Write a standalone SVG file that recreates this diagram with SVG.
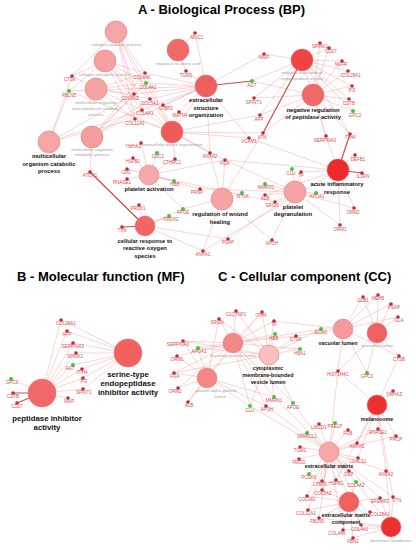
<svg xmlns="http://www.w3.org/2000/svg" width="416" height="550" viewBox="0 0 416 550">
<style>
.title{font:bold 13px "Liberation Sans",Arial,sans-serif;fill:#000}
.e{stroke:#ee7070;stroke-width:0.5;stroke-opacity:0.6;fill:none}
.E{stroke:#d44848;stroke-width:1.2;fill:none}
.t{stroke:#e07070;stroke-width:0.5}
.d{fill:#c42838}
.gd{fill:#3cc83c}
.gl{font:4.5px "Liberation Sans",Arial,sans-serif;fill:#e04848;text-anchor:middle}
.tl{font:bold 5.8px "Liberation Sans",Arial,sans-serif;fill:#111;text-anchor:middle}
.tg{font:4.3px "Liberation Sans",Arial,sans-serif;fill:#a0a0a0;text-anchor:middle}
.mf{font-size:7.8px}
.cc{font-size:5.3px}
</style>
<rect width="416" height="550" fill="#fff"/>
<text class="title" x="138" y="14">A - Biological Process (BP)</text>
<text class="title" x="17" y="281">B - Molecular function (MF)</text>
<text class="title" x="218" y="281">C - Cellular component (CC)</text>

<g id="connectors">
<path class="e" d="M195 33L178 50M195 33L206 86
M186 71L178 50M186 71L206 86
M72 76L116 32M72 76L105 61M72 76L96 89M72 76L49 142
M69 91L105 61M69 91L49 142M69 91L206 86M69 91L172 132
M145 73L116 32M145 73L105 61M145 73L96 89M145 73L92 137M145 73L206 86M145 73L172 132
M146 83L116 32M146 83L105 61M146 83L96 89M146 83L92 137M146 83L206 86M146 83L172 132
M134 94L116 32M134 94L105 61M134 94L96 89M134 94L49 142M134 94L92 137M134 94L206 86M134 94L172 132
M150 99L116 32M150 99L105 61M150 99L96 89M150 99L92 137M150 99L206 86M150 99L172 132
M142 110L116 32M142 110L105 61M142 110L96 89M142 110L49 142M142 110L92 137M142 110L206 86M142 110L172 132
M135 119L116 32M135 119L105 61M135 119L96 89M135 119L49 142M135 119L206 86M135 119L172 132
M163 105L206 86M163 105L172 132
M179 112L206 86M179 112L172 132
M264 54L302 60M264 54L206 86
M252 81L313 95M252 81L302 60
M254 98L313 95M254 98L302 60
M260 115L313 95M260 115L302 60M260 115L172 132
M263 133L313 95M263 133L172 132M263 133L222 199
M320 43L313 95M320 43L302 60
M329 48L313 95M329 48L302 60
M342 61L313 95M342 61L302 60
M348 71L313 95M348 71L302 60
M352 86L313 95M352 86L302 60
M349 99L313 95M349 99L302 60
M353 111L313 95M353 111L302 60
M326 136L313 95M326 136L302 60M326 136L338 170
M350 134L313 95M350 134L302 60
M355 155L338 170
M354 208L295 192M354 208L338 170
M340 225L338 170M340 225L295 192
M316 193L295 192
M301 172L295 192M301 172L338 170
M292 169L295 192
M265 184L295 192
M265 195L295 192M265 195L338 170
M275 202L295 192M275 202L149 175
M242 193L222 199
M228 239L295 192M228 239L145 226
M272 240L295 192M272 240L222 199
M203 251L145 226M203 251L222 199M203 251L338 170
M210 153L172 132M210 153L222 199M210 153L206 86
M225 160L172 132M225 160L222 199M225 160L295 192M225 160L338 170M225 160L149 175
M249 138L172 132M249 138L338 170M249 138L206 86
M141 143L149 175M157 153L149 175M175 159L149 175M175 159L172 132
M133 158L149 175M127 169L149 175M127 179L149 175M174 181L149 175
M200 189L149 175M200 189L295 192
M183 209L145 226M183 209L149 175M183 209L222 199
M169 216L145 226M139 205L145 226
M92 137L90 172M206 86L172 132"/>
<path class="E" d="M252 81L206 86M263 133L302 60M350 134L338 170M362 173L338 170M122 227L145 226M90 172L145 226"/>

<path class="e" d="M61 320L128 353M61 320L42 393
M67 331L128 353M67 331L42 393
M73 343L128 353M73 343L42 393
M76 353L128 353M76 353L42 393
M73 365L128 353M73 365L42 393
M82 369L128 353M82 369L42 393
M83 378L128 353M83 378L42 393
M83 389L128 353M83 389L42 393
M68 398L42 393M11 379L42 393"/>
<path class="E" d="M13 393L42 393M17 403L42 393"/>

<path class="e" d="M236 311L233 343M236 311L269 355
M262 312L233 343M262 312L269 355M262 312L207 378
M274 321L233 343M274 321L269 355M274 321L343 329
M275 334L233 343M275 334L269 355
M219 319L233 343M219 319L269 355M219 319L207 378
M183 341L233 343M183 341L207 378M183 341L269 355
M198 348L233 343M198 348L207 378M198 348L269 355
M177 356L233 343M177 356L207 378
M174 373L233 343M174 373L207 378M174 373L269 355
M178 388L233 343M178 388L207 378
M188 402L233 343M188 402L207 378
M300 349L269 355M300 349L233 343
M296 336L269 355M296 336L233 343M296 336L343 329
M321 329L343 329M321 329L269 355M321 329L233 343
M363 297L343 329M363 297L377 333
M378 295L343 329M378 295L377 333
M391 304L343 329M391 304L377 333
M398 317L343 329M398 317L377 333
M399 356L377 333M399 356L343 329M399 356L377 405
M338 371L343 329M338 371L377 405M338 371L377 333M338 371L329 452
M367 373L343 329M367 373L377 333
M393 391L377 405
M274 397L233 343M274 397L207 378M274 397L329 452M274 397L269 355
M293 403L329 452M293 403L233 343M293 403L269 355
M250 406L233 343M250 406L207 378M250 406L329 452M250 406L269 355
M266 406L233 343M266 406L207 378M266 406L329 452
M319 424L329 452M335 423L329 452M348 430L329 452
M378 429L377 405M378 429L329 452
M396 436L377 405M396 436L329 452
M357 443L377 405M357 443L329 452
M307 433L329 452M300 447L329 452M299 459L329 452M309 474L329 452
M358 458L329 452M358 458L377 405M349 471L329 452
M386 471L377 405M386 471L329 452M386 471L391 527
M356 482L329 452M356 482L349 502M356 482L391 527
M322 481L329 452M322 481L349 502
M336 480L329 452M336 480L377 405
M322 490L329 452M322 490L349 502
M307 496L329 452M307 496L349 502
M308 510L329 452M308 510L349 502
M319 518L329 452M319 518L349 502M319 518L391 527
M380 498L329 452M380 498L349 502M380 498L391 527
M393 497L329 452M393 497L391 527M393 497L377 405
M368 516L349 502M368 516L329 452
M361 525L329 452M361 525L349 502M361 525L391 527
M343 530L329 452M343 530L349 502M343 530L391 527
M353 538L349 502M353 538L391 527"/>
</g>

<g id="bp-collagen-catabolic"><circle class="t" cx="116" cy="32" r="11" fill="#f6a5a5"/><text class="tg" x="116" y="45.5">collagen catabolic process</text></g>
<g id="bp-collagen-metabolic"><circle class="t" cx="105" cy="61" r="11" fill="#f6a0a0"/><text class="tg" x="105" y="76">collagen metabolic process</text></g>
<g id="bp-macromolecule-catabolic"><circle class="t" cx="96" cy="89" r="11" fill="#f6a3a3"/><text class="tg" x="96" y="104">multicellular organism</text><text class="tg" x="96" y="110">macromolecule catabolic</text><text class="tg" x="96" y="116">process</text></g>
<g id="bp-organism-catabolic"><circle class="t" cx="49" cy="142" r="11" fill="#f6a5a5"/><text class="tl" x="49" y="158">multicellular</text><text class="tl" x="49" y="165.5">organism catabolic</text><text class="tl" x="49" y="173">process</text></g>
<g id="bp-organism-metabolic"><circle class="t" cx="92" cy="137" r="11" fill="#f59e9e"/><text class="tg" x="92" y="150.5">multicellular organism</text><text class="tg" x="92" y="156">metabolic process</text></g>
<g id="bp-amino-acid"><circle class="t" cx="178" cy="50" r="11" fill="#f06a6a"/><text class="tg" x="178" y="64.5">response to amino acid</text></g>
<g id="bp-ext-structure"><circle class="t" cx="206" cy="86" r="11" fill="#ef5f5f"/><text class="tl" x="206" y="102">extracellular</text><text class="tl" x="206" y="109.5">structure</text><text class="tl" x="206" y="117">organization</text></g>
<g id="bp-ecm-org"><circle class="t" cx="172" cy="132" r="11" fill="#ee5a5a"/><text class="tg" x="172" y="146">extracellular matrix organization</text></g>
<g id="bp-platelet-activation"><circle class="t" cx="149" cy="175" r="10" fill="#f6a8a8"/><text class="tl" x="149" y="191">platelet activation</text></g>
<g id="bp-ros"><circle class="t" cx="145" cy="226" r="10" fill="#f06565"/><text class="tl" x="145" y="242.5">cellular response to</text><text class="tl" x="145" y="250">reactive oxygen</text><text class="tl" x="145" y="257.5">species</text></g>
<g id="bp-wound"><circle class="t" cx="222" cy="199" r="11" fill="#f6a3a3"/><text class="tl" x="220" y="216">regulation of wound</text><text class="tl" x="220" y="223.5">healing</text></g>
<g id="bp-degranulation"><circle class="t" cx="295" cy="192" r="11" fill="#f6a3a3"/><text class="tl" x="293" y="208.5">platelet</text><text class="tl" x="293" y="216">degranulation</text></g>
<g id="bp-acute"><circle class="t" cx="338" cy="170" r="11" fill="#ee2b2b"/><text class="tl" x="337" y="186">acute inflammatory</text><text class="tl" x="337" y="193.5">response</text></g>
<g id="bp-neg-peptidase"><circle class="t" cx="313" cy="95" r="11" fill="#f06868"/><text class="tl" x="313" y="111.5">negative regulation</text><text class="tl" x="313" y="119">of peptidase activity</text></g>
<g id="bp-neg-endopeptidase"><circle class="t" cx="302" cy="60" r="11" fill="#f04444"/><text class="tg" x="302" y="74">negative regulation of</text><text class="tg" x="302" y="80">endopeptidase activity</text></g>

<g id="bp-MUC1"><circle class="d" cx="195" cy="33" r="1.8"/><text class="gl" x="197" y="39">MUC1</text></g>
<g id="bp-TGM1"><circle class="d" cx="186" cy="71" r="1.8"/><text class="gl" x="186" y="77">TGM1</text></g>
<g id="bp-CTSK"><circle class="d" cx="72" cy="76" r="1.8"/><text class="gl" x="70" y="81">CTSK</text></g>
<g id="bp-FBLN5"><circle class="gd" cx="69" cy="91" r="2"/><text class="gl" x="69" y="97">FBLN5</text></g>
<g id="bp-COL4A6"><circle class="d" cx="145" cy="73" r="1.8"/><text class="gl" x="142" y="79">COL4A6</text></g>
<g id="bp-COL4A2"><circle class="gd" cx="146" cy="83" r="2"/><text class="gl" x="148" y="89">COL4A2</text></g>
<g id="bp-COL6A2"><circle class="d" cx="134" cy="94" r="1.8"/><text class="gl" x="130" y="99.5">COL6A2</text></g>
<g id="bp-COL5A1"><circle class="d" cx="150" cy="99" r="1.8"/><text class="gl" x="150" y="105">COL5A1</text></g>
<g id="bp-COL4A1"><circle class="d" cx="142" cy="110" r="1.8"/><text class="gl" x="145" y="115">COL4A1</text></g>
<g id="bp-COL11A1"><circle class="d" cx="135" cy="119" r="1.8"/><text class="gl" x="135" y="125">COL11A1</text></g>
<g id="bp-LTBP2"><circle class="d" cx="163" cy="105" r="1.8"/><text class="gl" x="166" y="110">LTBP2</text></g>
<g id="bp-MATN4"><circle class="d" cx="179" cy="112" r="1.8"/><text class="gl" x="180" y="117">MATN4</text></g>
<g id="bp-NAIP"><circle class="d" cx="264" cy="54" r="1.8"/><text class="gl" x="264" y="59">NAIP</text></g>
<g id="bp-AGT"><circle class="gd" cx="252" cy="81" r="2"/><text class="gl" x="252" y="87">AGT</text></g>
<g id="bp-SPINT1"><circle class="d" cx="254" cy="98" r="1.8"/><text class="gl" x="254" y="103.5">SPINT1</text></g>
<g id="bp-APP"><circle class="d" cx="260" cy="115" r="1.8"/><text class="gl" x="259" y="121">APP</text></g>
<g id="bp-VTN"><circle class="d" cx="263" cy="133" r="1.8"/><text class="gl" x="262" y="138.5">VTN</text></g>
<g id="bp-SPINK1"><circle class="d" cx="320" cy="43" r="1.8"/><text class="gl" x="320" y="48">SPINK1</text></g>
<g id="bp-CD27"><circle class="d" cx="329" cy="48" r="1.8"/><text class="gl" x="331" y="53">CD27</text></g>
<g id="bp-NGFR"><circle class="d" cx="342" cy="61" r="1.8"/><text class="gl" x="341" y="66">NGFR</text></g>
<g id="bp-COL28A1"><circle class="d" cx="348" cy="71" r="1.8"/><text class="gl" x="351" y="77">COL28A1</text></g>
<g id="bp-PI3"><circle class="d" cx="352" cy="86" r="1.8"/><text class="gl" x="352" y="91.5">PI3</text></g>
<g id="bp-CSTB"><circle class="d" cx="349" cy="99" r="1.8"/><text class="gl" x="349" y="105">CSTB</text></g>
<g id="bp-GPC3"><circle class="gd" cx="353" cy="111" r="2"/><text class="gl" x="355" y="117">GPC3</text></g>
<g id="bp-SERPINA3"><circle class="d" cx="326" cy="136" r="1.8"/><text class="gl" x="325" y="141.5">SERPINA3</text></g>
<g id="bp-ITIH4"><circle class="d" cx="350" cy="134" r="1.8"/><text class="gl" x="350" y="139">ITIH4</text></g>
<g id="bp-DEFB1"><circle class="d" cx="355" cy="155" r="1.8"/><text class="gl" x="358" y="160.5">DEFB1</text></g>
<g id="bp-IL1RN"><circle class="d" cx="362" cy="173" r="1.8"/><text class="gl" x="363" y="178">IL1RN</text></g>
<g id="bp-ORM2"><circle class="d" cx="354" cy="208" r="1.8"/><text class="gl" x="353" y="214">ORM2</text></g>
<g id="bp-ORM1"><circle class="d" cx="340" cy="225" r="1.8"/><text class="gl" x="340" y="230.5">ORM1</text></g>
<g id="bp-APOA1"><circle class="gd" cx="316" cy="193" r="2"/><text class="gl" x="317" y="198">APOA1</text></g>
<g id="bp-TF"><circle class="d" cx="301" cy="172" r="1.8"/><text class="gl" x="301" y="177">TF</text></g>
<g id="bp-CLU"><circle class="gd" cx="292" cy="169" r="2"/><text class="gl" x="291" y="174.5">CLU</text></g>
<g id="bp-MMRN1"><circle class="gd" cx="265" cy="184" r="2"/><text class="gl" x="266" y="189">MMRN1</text></g>
<g id="bp-ALB"><circle class="d" cx="265" cy="195" r="1.8"/><text class="gl" x="265" y="199.5">ALB</text></g>
<g id="bp-SRGN"><circle class="d" cx="275" cy="202" r="1.8"/><text class="gl" x="272" y="207">SRGN</text></g>
<g id="bp-MYLK"><circle class="gd" cx="242" cy="193" r="2"/><text class="gl" x="243" y="198">MYLK</text></g>
<g id="bp-PSAP"><circle class="d" cx="228" cy="239" r="1.8"/><text class="gl" x="228" y="244">PSAP</text></g>
<g id="bp-APOH"><circle class="d" cx="272" cy="240" r="1.8"/><text class="gl" x="272" y="245">APOH</text></g>
<g id="bp-ANXA1"><circle class="d" cx="203" cy="251" r="1.8"/><text class="gl" x="203" y="256">ANXA1</text></g>
<g id="bp-ANXA2"><circle class="d" cx="210" cy="153" r="1.8"/><text class="gl" x="210" y="158">ANXA2</text></g>
<g id="bp-FGA"><circle class="d" cx="225" cy="160" r="1.8"/><text class="gl" x="225" y="165">FGA</text></g>
<g id="bp-VCAM1"><circle class="d" cx="249" cy="138" r="1.8"/><text class="gl" x="249" y="143">VCAM1</text></g>
<g id="bp-YWHAZ"><circle class="d" cx="141" cy="143" r="1.8"/><text class="gl" x="133" y="148">YWHAZ</text></g>
<g id="bp-CDC1"><circle class="gd" cx="157" cy="153" r="2"/><text class="gl" x="158" y="158">CDC1</text></g>
<g id="bp-CTHRC1"><circle class="d" cx="175" cy="159" r="1.8"/><text class="gl" x="172" y="164">CTHRC1</text></g>
<g id="bp-HSPB1"><circle class="d" cx="133" cy="158" r="1.8"/><text class="gl" x="133" y="163">HSPB1</text></g>
<g id="bp-CFD"><circle class="d" cx="127" cy="169" r="1.8"/><text class="gl" x="126" y="174">CFD</text></g>
<g id="bp-RNASE1"><circle class="d" cx="127" cy="179" r="1.8"/><text class="gl" x="122" y="184">RNASE1</text></g>
<g id="bp-HBB"><circle class="gd" cx="174" cy="181" r="2"/><text class="gl" x="175" y="186">HBB</text></g>
<g id="bp-PRNP"><circle class="d" cx="200" cy="189" r="1.8"/><text class="gl" x="197" y="194">PRNP</text></g>
<g id="bp-APOE"><circle class="gd" cx="183" cy="209" r="2"/><text class="gl" x="183" y="214">APOE</text></g>
<g id="bp-PRDX2"><circle class="gd" cx="169" cy="216" r="2"/><text class="gl" x="171" y="221">PRDX2</text></g>
<g id="bp-PRDX1"><circle class="d" cx="139" cy="205" r="1.8"/><text class="gl" x="138" y="210">PRDX1</text></g>
<g id="bp-TXN"><circle class="d" cx="122" cy="227" r="1.8"/><text class="gl" x="122" y="232">TXN</text></g>
<g id="bp-ATOX1"><circle class="d" cx="90" cy="172" r="1.8"/><text class="gl" x="90" y="177">ATOX1</text></g>

<g id="mf-serine-endopeptidase"><circle class="t" cx="128" cy="353" r="14" fill="#f26060"/><text class="tl mf" x="128" y="377">serine-type</text><text class="tl mf" x="128" y="386">endopeptidase</text><text class="tl mf" x="128" y="395">inhibitor activity</text></g>
<g id="mf-peptidase-inhibitor"><circle class="t" cx="42" cy="393" r="14" fill="#f26868"/><text class="tl mf" x="47" y="421">peptidase inhibitor</text><text class="tl mf" x="47" y="430">activity</text></g>
<g id="mf-COL28A1"><circle class="d" cx="61" cy="320" r="1.8"/><text class="gl" x="66" y="325">COL28A1</text></g>
<g id="mf-APP"><circle class="d" cx="67" cy="331" r="1.8"/><text class="gl" x="67" y="336">APP</text></g>
<g id="mf-SERPINA3"><circle class="d" cx="73" cy="343" r="1.8"/><text class="gl" x="73" y="348">SERPINA3</text></g>
<g id="mf-SPINK1"><circle class="d" cx="76" cy="353" r="1.8"/><text class="gl" x="75" y="358">SPINK1</text></g>
<g id="mf-AGT"><circle class="gd" cx="73" cy="365" r="2"/><text class="gl" x="70" y="370">AGT</text></g>
<g id="mf-ITIH4"><circle class="d" cx="82" cy="369" r="1.8"/><text class="gl" x="82" y="374">ITIH4</text></g>
<g id="mf-PI3"><circle class="d" cx="83" cy="378" r="1.8"/><text class="gl" x="84" y="383">PI3</text></g>
<g id="mf-SPINT1"><circle class="d" cx="83" cy="389" r="1.8"/><text class="gl" x="84" y="394">SPINT1</text></g>
<g id="mf-NAIP"><circle class="d" cx="68" cy="398" r="1.8"/><text class="gl" x="69" y="403">NAIP</text></g>
<g id="mf-GPC3"><circle class="gd" cx="11" cy="379" r="2"/><text class="gl" x="12" y="384">GPC3</text></g>
<g id="mf-CSTB"><circle class="d" cx="13" cy="393" r="1.8"/><text class="gl" x="13" y="397.5">CSTB</text></g>
<g id="mf-CD27"><circle class="d" cx="17" cy="403" r="1.8"/><text class="gl" x="17" y="408">CD27</text></g>

<g id="cc-secretory"><circle class="t" cx="233" cy="343" r="10" fill="#f28888"/><text class="tg" x="233" y="357">secretory granule lumen</text></g>
<g id="cc-cytoplasmic-vesicle"><circle class="t" cx="269" cy="355" r="10" fill="#f8c0c0"/><text class="tl cc" x="268" y="370">cytoplasmic</text><text class="tl cc" x="268" y="377">membrane-bounded</text><text class="tl cc" x="268" y="384">vesicle lumen</text></g>
<g id="cc-platelet-alpha"><circle class="t" cx="207" cy="378" r="10" fill="#f28888"/><text class="tg" x="216" y="392">platelet alpha granule</text><text class="tg" x="220" y="398">lumen</text></g>
<g id="cc-vacuolar"><circle class="t" cx="343" cy="329" r="10" fill="#f59a9a"/><text class="tl cc" x="338" y="345">vacuolar lumen</text></g>
<g id="cc-lysosomal"><circle class="t" cx="377" cy="333" r="10" fill="#ef6060"/><text class="tg" x="377" y="346.5">lysosomal lumen</text></g>
<g id="cc-melanosome"><circle class="t" cx="377" cy="405" r="10" fill="#ee3030"/><text class="tl cc" x="377" y="421">melanosome</text></g>
<g id="cc-ecm"><circle class="t" cx="329" cy="452" r="10" fill="#f6a8a8"/><text class="tl cc" x="329" y="468">extracellular matrix</text></g>
<g id="cc-ecm-component"><circle class="t" cx="349" cy="502" r="10" fill="#f06060"/><text class="tl cc" x="346" y="517">extracellular matrix</text><text class="tl cc" x="346" y="524">component</text></g>
<g id="cc-basement"><circle class="t" cx="391" cy="527" r="10" fill="#ee3030"/><text class="tg" x="391" y="542">basement membrane</text></g>

<g id="cc-C1QTNF1"><circle class="d" cx="236" cy="311" r="1.8"/><text class="gl" x="236" y="316">C1QTNF1</text></g>
<g id="cc-ITIH4"><circle class="d" cx="262" cy="312" r="1.8"/><text class="gl" x="261" y="317">ITIH4</text></g>
<g id="cc-TF"><circle class="d" cx="274" cy="321" r="1.8"/><text class="gl" x="274" y="326">TF</text></g>
<g id="cc-HBB"><circle class="gd" cx="275" cy="334" r="2"/><text class="gl" x="274" y="339.5">HBB</text></g>
<g id="cc-SRGN"><circle class="d" cx="219" cy="319" r="1.8"/><text class="gl" x="217" y="324">SRGN</text></g>
<g id="cc-SERPINA3"><circle class="d" cx="183" cy="341" r="1.8"/><text class="gl" x="178" y="346">SERPINA3</text></g>
<g id="cc-APOA1"><circle class="gd" cx="198" cy="348" r="2"/><text class="gl" x="199" y="353">APOA1</text></g>
<g id="cc-ORM1"><circle class="d" cx="177" cy="356" r="1.8"/><text class="gl" x="177" y="361">ORM1</text></g>
<g id="cc-FGA"><circle class="d" cx="174" cy="373" r="1.8"/><text class="gl" x="175" y="378">FGA</text></g>
<g id="cc-ORM2"><circle class="d" cx="178" cy="388" r="1.8"/><text class="gl" x="175" y="393">ORM2</text></g>
<g id="cc-ALB"><circle class="d" cx="188" cy="402" r="1.8"/><text class="gl" x="189" y="407">ALB</text></g>
<g id="cc-HBA1"><circle class="gd" cx="300" cy="349" r="2"/><text class="gl" x="300" y="355">HBA1</text></g>
<g id="cc-CTSK"><circle class="d" cx="296" cy="336" r="1.8"/><text class="gl" x="296" y="341">CTSK</text></g>
<g id="cc-ECM1"><circle class="gd" cx="321" cy="329" r="2"/><text class="gl" x="321" y="334">ECM1</text></g>
<g id="cc-GLB1"><circle class="d" cx="363" cy="297" r="1.8"/><text class="gl" x="363" y="302">GLB1</text></g>
<g id="cc-HEXB"><circle class="d" cx="378" cy="295" r="1.8"/><text class="gl" x="378" y="300">HEXB</text></g>
<g id="cc-PSAP"><circle class="d" cx="391" cy="304" r="1.8"/><text class="gl" x="394" y="309">PSAP</text></g>
<g id="cc-GLA"><circle class="d" cx="398" cy="317" r="1.8"/><text class="gl" x="399" y="322">GLA</text></g>
<g id="cc-CTSB"><circle class="d" cx="399" cy="356" r="1.8"/><text class="gl" x="399" y="361">CTSB</text></g>
<g id="cc-HIST1H4C"><circle class="d" cx="338" cy="371" r="1.8"/><text class="gl" x="338" y="376">HIST1H4C</text></g>
<g id="cc-GPC3"><circle class="gd" cx="367" cy="373" r="2"/><text class="gl" x="367" y="378">GPC3</text></g>
<g id="cc-YWHAZ"><circle class="d" cx="393" cy="391" r="1.8"/><text class="gl" x="394" y="396">YWHAZ</text></g>
<g id="cc-MMRN1"><circle class="gd" cx="274" cy="397" r="2"/><text class="gl" x="274" y="402">MMRN1</text></g>
<g id="cc-APOE"><circle class="gd" cx="293" cy="403" r="2"/><text class="gl" x="293" y="408.5">APOE</text></g>
<g id="cc-CLU"><circle class="gd" cx="250" cy="406" r="2"/><text class="gl" x="250" y="411.5">CLU</text></g>
<g id="cc-APOH"><circle class="d" cx="266" cy="406" r="1.8"/><text class="gl" x="267" y="411">APOH</text></g>
<g id="cc-LMCD1"><circle class="d" cx="319" cy="424" r="1.8"/><text class="gl" x="319" y="429">LMCD1</text></g>
<g id="cc-PRELP"><circle class="gd" cx="335" cy="423" r="2"/><text class="gl" x="335" y="428">PRELP</text></g>
<g id="cc-FGB"><circle class="d" cx="348" cy="430" r="1.8"/><text class="gl" x="348" y="435">FGB</text></g>
<g id="cc-RNASE1"><circle class="d" cx="378" cy="429" r="1.8"/><text class="gl" x="378" y="434">RNASE1</text></g>
<g id="cc-PRCP"><circle class="d" cx="396" cy="436" r="1.8"/><text class="gl" x="396" y="441">PRCP</text></g>
<g id="cc-ANXA5"><circle class="d" cx="357" cy="443" r="1.8"/><text class="gl" x="357" y="448">ANXA5</text></g>
<g id="cc-SPARCL1"><circle class="gd" cx="307" cy="433" r="2"/><text class="gl" x="307" y="438">SPARCL1</text></g>
<g id="cc-TGM2"><circle class="d" cx="300" cy="447" r="1.8"/><text class="gl" x="300" y="452">TGM2</text></g>
<g id="cc-FMOD"><circle class="d" cx="299" cy="459" r="1.8"/><text class="gl" x="299" y="464">FMOD</text></g>
<g id="cc-PCSK6"><circle class="gd" cx="309" cy="474" r="2"/><text class="gl" x="309" y="479">PCSK6</text></g>
<g id="cc-LGALS1"><circle class="d" cx="358" cy="458" r="1.8"/><text class="gl" x="358" y="463">LGALS1</text></g>
<g id="cc-DSP"><circle class="d" cx="349" cy="471" r="1.8"/><text class="gl" x="349" y="476">DSP</text></g>
<g id="cc-ANXA2"><circle class="d" cx="386" cy="471" r="1.8"/><text class="gl" x="386" y="476">ANXA2</text></g>
<g id="cc-COL4A2"><circle class="gd" cx="356" cy="482" r="2"/><text class="gl" x="356" y="487">COL4A2</text></g>
<g id="cc-LTBP2"><circle class="d" cx="322" cy="481" r="1.8"/><text class="gl" x="320" y="486">LTBP2</text></g>
<g id="cc-HSPB1"><circle class="d" cx="336" cy="480" r="1.8"/><text class="gl" x="336" y="485">HSPB1</text></g>
<g id="cc-COL5A2"><circle class="d" cx="322" cy="490" r="1.8"/><text class="gl" x="323" y="495">COL5A2</text></g>
<g id="cc-COL3A1"><circle class="d" cx="307" cy="496" r="1.8"/><text class="gl" x="307" y="501">COL3A1</text></g>
<g id="cc-COL11A1"><circle class="d" cx="308" cy="510" r="1.8"/><text class="gl" x="306" y="515">COL11A1</text></g>
<g id="cc-FBLN5"><circle class="d" cx="319" cy="518" r="1.8"/><text class="gl" x="317" y="523">FBLN5</text></g>
<g id="cc-EFEMP2"><circle class="d" cx="380" cy="498" r="1.8"/><text class="gl" x="380" y="503">EFEMP2</text></g>
<g id="cc-VTN"><circle class="d" cx="393" cy="497" r="1.8"/><text class="gl" x="397" y="502">VTN</text></g>
<g id="cc-COL28A1"><circle class="d" cx="370" cy="512" r="1.8"/><text class="gl" x="380" y="516">COL28A1</text></g>
<g id="cc-COL4A1"><circle class="d" cx="361" cy="525" r="1.8"/><text class="gl" x="360" y="531">COL4A1</text></g>
<g id="cc-COL4A6"><circle class="d" cx="343" cy="530" r="1.8"/><text class="gl" x="337" y="535">COL4A6</text></g>
<g id="cc-FBN1"><circle class="d" cx="353" cy="538" r="1.8"/><text class="gl" x="353" y="543">FBN1</text></g>
</svg>
